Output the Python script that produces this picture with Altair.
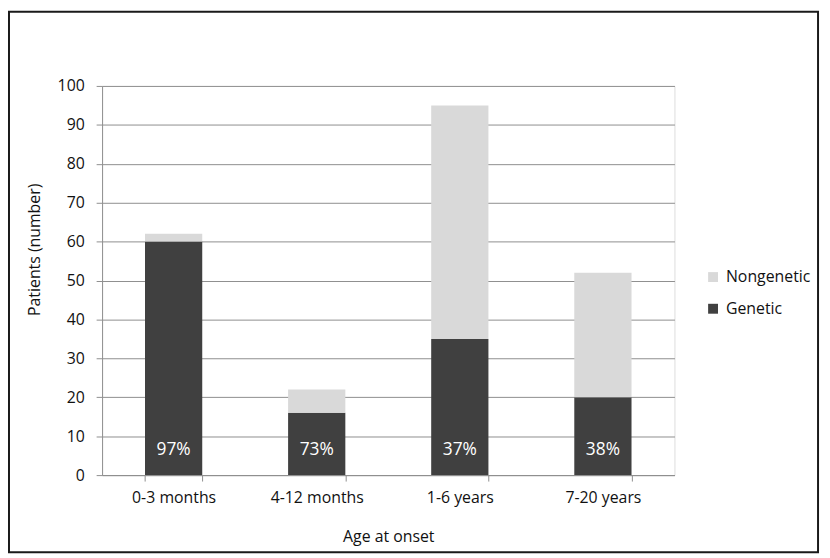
import altair as alt
import pandas as pd

categories = ["0-3 months", "4-12 months", "1-6 years", "7-20 years"]
genetic = [60, 16, 35, 20]
nongenetic = [2, 6, 60, 32]
y_ticks = [0, 10, 20, 30, 40, 50, 60, 70, 80, 90, 100]

rows = []
for c, g, n in zip(categories, genetic, nongenetic):
    rows.append({"cat": c, "type": "Genetic", "value": g, "ord": 0})
    rows.append({"cat": c, "type": "Nongenetic", "value": n, "ord": 1})
df = pd.DataFrame(rows)

pct_df = pd.DataFrame({
    "cat": categories,
    "pct": [f"{round(g / (g + n) * 100)}%" for g, n in zip(genetic, nongenetic)],
})

FONT = "Open Sans"
GRID = "#8f8f8f"

x_enc = alt.X(
    "cat:N",
    sort=categories,
    scale=alt.Scale(paddingInner=0.6, paddingOuter=0.3),
    axis=alt.Axis(
        title="Age at onset",
        tickBand="extent",
        tickSize=6,
        tickColor=GRID,
        domainColor=GRID,
        labelAngle=0,
        labelPadding=9,
        labelFontSize=16,
        labelFont=FONT,
        labelColor="#111111",
        titleFont=FONT,
        titleFontSize=16,
        titleFontWeight="normal",
        titleColor="#111111",
        titleY=67,
        titleBaseline="alphabetic",
        grid=False,
    ),
)

bars = alt.Chart(df).mark_bar().encode(
    x=x_enc,
    y=alt.Y(
        "value:Q",
        stack="zero",
        scale=alt.Scale(domain=[0, 100], nice=False),
        axis=alt.Axis(
            title="Patients (number)",
            values=y_ticks,
            tickSize=6,
            tickColor=GRID,
            domainColor=GRID,
            gridColor=GRID,
            gridWidth=1,
            labelPadding=12,
            labelFontSize=16,
            labelFont=FONT,
            labelColor="#111111",
            titleFont=FONT,
            titleFontSize=16,
            titleFontWeight="normal",
            titleColor="#111111",
            titleX=-63,
            titleY=165,
            titleBaseline="alphabetic",
        ),
    ),
    color=alt.Color(
        "type:N",
        scale=alt.Scale(domain=["Nongenetic", "Genetic"], range=["#d9d9d9", "#404040"]),
        legend=alt.Legend(
            title=None,
            orient="none",
            legendX=609,
            legendY=185,
            symbolType="square",
            symbolSize=100,
            symbolStrokeWidth=0,
            labelFont=FONT,
            labelFontSize=16,
            labelColor="#111111",
            labelOffset=5,
            rowPadding=16,
            padding=0,
        ),
    ),
    order=alt.Order("ord:Q", sort="ascending"),
)

labels = alt.Chart(pct_df).mark_text(
    color="white", fontSize=17.5, font=FONT, baseline="alphabetic", align="center"
).encode(
    x=alt.X("cat:N", sort=categories),
    y=alt.value(373),
    text="pct:N",
)

frame = alt.Chart(pd.DataFrame({"k": [0]})).mark_rect(
    filled=False, stroke="#1a1a1a", strokeWidth=2, clip=False
).encode(
    x=alt.value(-94),
    x2=alt.value(723),
    y=alt.value(-75),
    y2=alt.value(471),
)

chart = alt.layer(bars, labels, frame).properties(
    width=578,
    height=393,
    autosize=alt.AutoSizeParams(type="none"),
    padding={"left": 95, "top": 76, "right": 149, "bottom": 81},
).configure_view(stroke=None).configure(background="white")

chart.save("out.html", embed_options={"renderer": "svg", "actions": False})
